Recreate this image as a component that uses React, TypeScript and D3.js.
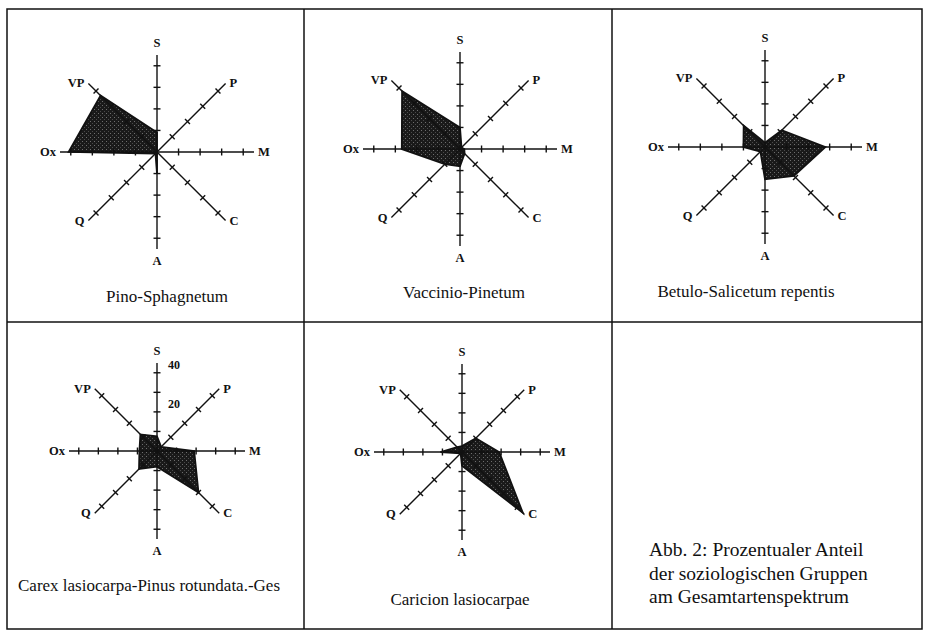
import { useEffect, useRef } from "react";
import * as d3 from "d3";

// Soziologische Gruppen, clockwise from the top
const axisNames = ["S", "P", "M", "C", "A", "Q", "Ox", "VP"];
const gridTicks = [10, 20, 30, 40];
const scaleLabels = [20, 40];

// Prozentualer Anteil per Gesellschaft (same order as axisNames)
const pinoSphagnetum = [9, 0, 0, 0, 10, 1, 41, 37];
const vaccinioPinetum = [10, 1, 2, 3, 8, 10, 27, 38];
const betuloSalicetum = [2, 11, 28, 19, 15, 3, 10, 14];
const carexPinus = [7.5, 3, 19, 30, 8, 13, 9, 12];
const caricionLasiocarpae = [3, 10, 19, 44, 7, 1, 11, 3.5];

const titles = [
  "Pino-Sphagnetum",
  "Vaccinio-Pinetum",
  "Betulo-Salicetum repentis",
  "Carex lasiocarpa-Pinus rotundata.-Ges",
  "Caricion lasiocarpae",
];
const series = [pinoSphagnetum, vaccinioPinetum, betuloSalicetum, carexPinus, caricionLasiocarpae];

const captionLines = [
  "Abb. 2: Prozentualer Anteil",
  "der soziologischen Gruppen",
  "am Gesamtartenspektrum",
];

// panel layout (centre, axis length, title anchor)
const layout = [
  { cx: 157, cy: 152, R: 97, tx: 167, ty: 302, scale: false },
  { cx: 460, cy: 149, R: 97, tx: 464, ty: 298, scale: false },
  { cx: 765, cy: 147, R: 97, tx: 746, ty: 297, scale: false },
  { cx: 157, cy: 451, R: 88, tx: 149, ty: 591, scale: true },
  { cx: 462, cy: 452, R: 88, tx: 460, ty: 605, scale: false },
];

const SERIF = "Liberation Serif, Times New Roman, DejaVu Serif, serif";
const MAX = 45;

export default function App() {
  const svgRef = useRef<SVGSVGElement>(null);

  useEffect(() => {
    const svg = d3.select(svgRef.current);
    svg.selectAll("*").remove();

    // stippled dark fill like the printed original
    const pat = svg.append("defs").append("pattern")
      .attr("id", "stipple")
      .attr("patternUnits", "userSpaceOnUse")
      .attr("width", 4).attr("height", 4);
    pat.append("rect").attr("width", 4).attr("height", 4).attr("fill", "#1a1a1a");
    pat.append("rect").attr("x", 1).attr("y", 1).attr("width", 1).attr("height", 1).attr("fill", "#6e6e6e");
    pat.append("rect").attr("x", 3).attr("y", 3).attr("width", 1).attr("height", 1).attr("fill", "#4a4a4a");

    // ── frame grid ───────────────────────────────────────────
    const frame = svg.append("g").attr("stroke", "#111").attr("stroke-width", 1.5).attr("fill", "none");
    frame.append("rect").attr("x", 7).attr("y", 9).attr("width", 915).attr("height", 620);
    frame.append("line").attr("x1", 304).attr("x2", 304).attr("y1", 9).attr("y2", 629);
    frame.append("line").attr("x1", 612).attr("x2", 612).attr("y1", 9).attr("y2", 629);
    frame.append("line").attr("x1", 7).attr("x2", 922).attr("y1", 322).attr("y2", 322);

    const angle = (i: number) => (i * 2 * Math.PI) / axisNames.length;

    series.forEach((values, p) => {
      const L = layout[p];
      const r = d3.scaleLinear().domain([0, MAX]).range([0, L.R]);
      const g = svg.append("g").attr("transform", `translate(${L.cx},${L.cy})`);

      // polygon
      const radial = d3.lineRadial<number>()
        .angle((_, i) => angle(i))
        .radius((d) => r(d))
        .curve(d3.curveLinearClosed);
      g.append("path")
        .attr("d", radial(values))
        .attr("fill", "url(#stipple)")
        .attr("stroke", "#111")
        .attr("stroke-width", 1.8)
        .attr("stroke-linejoin", "miter");

      // axes + ticks
      axisNames.forEach((name, i) => {
        const a = angle(i);
        const ux = Math.sin(a), uy = -Math.cos(a);
        g.append("line")
          .attr("x1", 0).attr("y1", 0)
          .attr("x2", ux * r(MAX)).attr("y2", uy * r(MAX))
          .attr("stroke", "#111").attr("stroke-width", 1.4);
        gridTicks.forEach((t) => {
          const px = ux * r(t), py = uy * r(t);
          g.append("line")
            .attr("x1", px - uy * 3.5).attr("y1", py + ux * 3.5)
            .attr("x2", px + uy * 3.5).attr("y2", py - ux * 3.5)
            .attr("stroke", "#111").attr("stroke-width", 1.4);
        });

        const ex = ux * r(MAX), ey = uy * r(MAX);
        const lab = g.append("text")
          .style("font-family", SERIF)
          .attr("font-weight", "bold")
          .attr("font-size", 12.5)
          .attr("fill", "#111")
          .text(name);
        if (Math.abs(ux) < 0.01) {
          lab.attr("x", ex).attr("text-anchor", "middle")
            .attr("y", uy < 0 ? ey - 8 : ey + 16);
        } else {
          lab.attr("x", ex + (ux > 0 ? 4 : -4))
            .attr("y", ey)
            .attr("dominant-baseline", "central")
            .attr("text-anchor", ux > 0 ? "start" : "end");
        }
      });

      if (L.scale) {
        scaleLabels.forEach((v) => {
          g.append("text")
            .attr("x", 11)
            .attr("y", -r(v) - 7.5)
            .attr("dominant-baseline", "central")
            .style("font-family", SERIF)
            .attr("font-weight", "bold")
            .attr("font-size", 12)
            .attr("fill", "#111")
            .text(v);
        });
      }

      svg.append("text")
        .attr("x", L.tx).attr("y", L.ty)
        .attr("text-anchor", "middle")
        .style("font-family", SERIF)
        .attr("font-size", 17)
        .attr("fill", "#111")
        .text(titles[p]);
    });

    // caption
    svg.append("g")
      .selectAll("text")
      .data(captionLines)
      .join("text")
      .attr("x", 649)
      .attr("y", (_, i) => 556 + i * 23.5)
      .style("font-family", SERIF)
      .attr("font-size", 19.5)
      .attr("fill", "#111")
      .text((d) => d);
  }, []);

  return (
    <svg
      ref={svgRef}
      width={926}
      height={631}
      style={{ position: "absolute", left: 0, top: 0, background: "#fff", display: "block" }}
    />
  );
}
